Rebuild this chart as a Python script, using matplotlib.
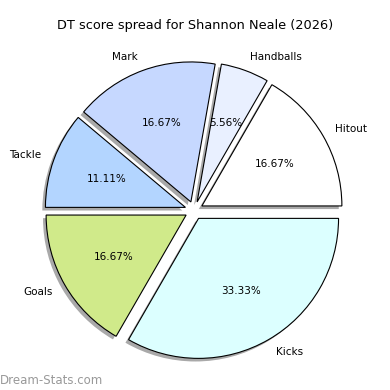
import matplotlib
matplotlib.use("Agg")
import matplotlib.pyplot as plt

labels = ["Hitout", "Handballs", "Mark", "Tackle", "Goals", "Kicks"]
values = [3, 1, 3, 2, 3, 6]
colors = ["#ffffff", "#e9f0ff", "#c6d8ff", "#b3d5ff", "#d0ea8a", "#dcffff"]
title = "DT score spread for Shannon Neale (2026)"
watermark = "Dream-Stats.com"

R = 140.0
cx, cy = 194.0, 210.5

fig = plt.figure(figsize=(3.9, 3.9), dpi=100)
ax = fig.add_axes([0, 0, 1, 1])
ax.pie(values, labels=labels, colors=colors, explode=[0.065] * len(values),
       shadow=dict(ox=-0.016, oy=-0.016, facecolor="#707070",
                   edgecolor="none", alpha=0.6),
       startangle=0, counterclock=True, autopct="%.2f%%",
       wedgeprops=dict(edgecolor="black", linewidth=0.8),
       textprops=dict(fontsize=7.5))
ax.set_aspect("auto")
ax.set_xlim(-cx / R, (390 - cx) / R)
ax.set_ylim(-(390 - cy) / R, cy / R)
ax.axis("off")
fig.text(0.5, 1 - 25 / 390, title, ha="center", va="center", fontsize=9.3)
fig.text(0.0, 1 - 380 / 390, watermark, ha="left", va="center", fontsize=8.5,
         color="#999999")
fig.savefig("out.png", dpi=100)
